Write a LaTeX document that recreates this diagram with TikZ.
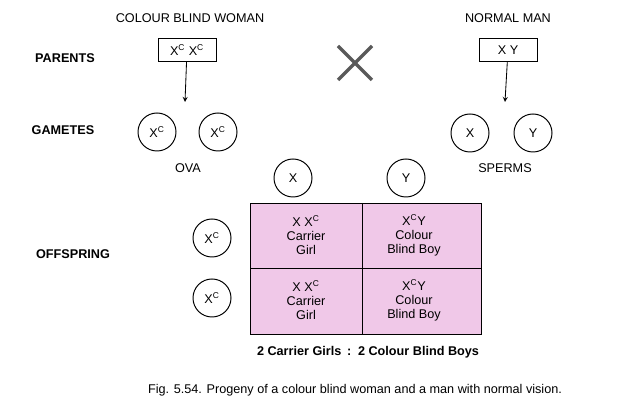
\documentclass[tikz,border=0pt]{standalone}
\usepackage{fontspec}
\setmainfont{Liberation Sans}
\definecolor{cellpink}{RGB}{240,200,232}
\begin{document}
\begin{tikzpicture}[x=0.025cm,y=-0.025cm,
  lbl/.style={font=\bfseries\small},
  gam/.style={draw,circle,minimum size=0.95cm,inner sep=0pt,font=\small,line width=0.7pt},
  pbox/.style={draw,minimum width=1.45cm,minimum height=0.55cm,inner sep=1pt,font=\small,line width=0.7pt},
  celltxt/.style={align=center,font=\small\linespread{0.9}\selectfont},
  arr/.style={->,>=stealth,line width=0.6pt}]
\useasboundingbox (0,0) rectangle (640,411);
\node[font=\small] (cbw) at (190,18) {COLOUR BLIND WOMAN};
\node[font=\small] (nm) at (508,18) {NORMAL MAN};
\node[lbl] (par) at (65,58) {PARENTS};
\node[lbl] (gamlbl) at (63,130) {GAMETES};
\node[lbl] (off) at (73,254) {OFFSPRING};
\node[pbox] (mom) at (187,50) {X\textsuperscript{C} X\textsuperscript{C}};
\node[pbox] (dad) at (508,50) {X Y};
\coordinate (c) at (355,63);
\draw[line width=2.5pt,gray!70!black] ([shift={(-17,-17)}]c) -- ([shift={(17,17)}]c) ([shift={(-17,17)}]c) -- ([shift={(17,-17)}]c);
\coordinate (ma) at (185,102);
\coordinate (da) at (505,102);
\draw[arr] (mom) -- (ma);
\draw[arr] (dad) -- (da);
\node[gam] (o1) at (157,132) {X\textsuperscript{C}};
\node[gam] (o2) at (218,132) {X\textsuperscript{C}};
\node[gam] (s1) at (470,133) {X};
\node[gam] (s2) at (533,133) {Y};
\node[font=\small] (ova) at (188,168) {OVA};
\node[font=\small] (sp) at (505,168) {SPERMS};
\node[gam] (tx) at (293,178) {X};
\node[gam] (ty) at (406,178) {Y};
\node[gam] (l1) at (212,238) {X\textsuperscript{C}};
\node[gam] (l2) at (212,298) {X\textsuperscript{C}};
\draw[fill=cellpink,line width=0.7pt] (250,203) rectangle (481,334);
\draw[line width=0.7pt] (362,203) -- (362,334) (250,268) -- (481,268);
\node[celltxt] (c11) at (306,235) {X X\textsuperscript{C}\\Carrier\\Girl};
\node[celltxt] (c12) at (414,235) {X\textsuperscript{C}Y\\Colour\\Blind Boy};
\node[celltxt] (c21) at (306,300) {X X\textsuperscript{C}\\Carrier\\Girl};
\node[celltxt] (c22) at (414,300) {X\textsuperscript{C}Y\\Colour\\Blind Boy};
\node[font=\bfseries\small] (sum) at (368,352) {2 Carrier Girls \,:\, 2 Colour Blind Boys};
\node[font=\small] (cap) at (355,390) {Fig. 5.54. Progeny of a colour blind woman and a man with normal vision.};
\end{tikzpicture}
\end{document}
